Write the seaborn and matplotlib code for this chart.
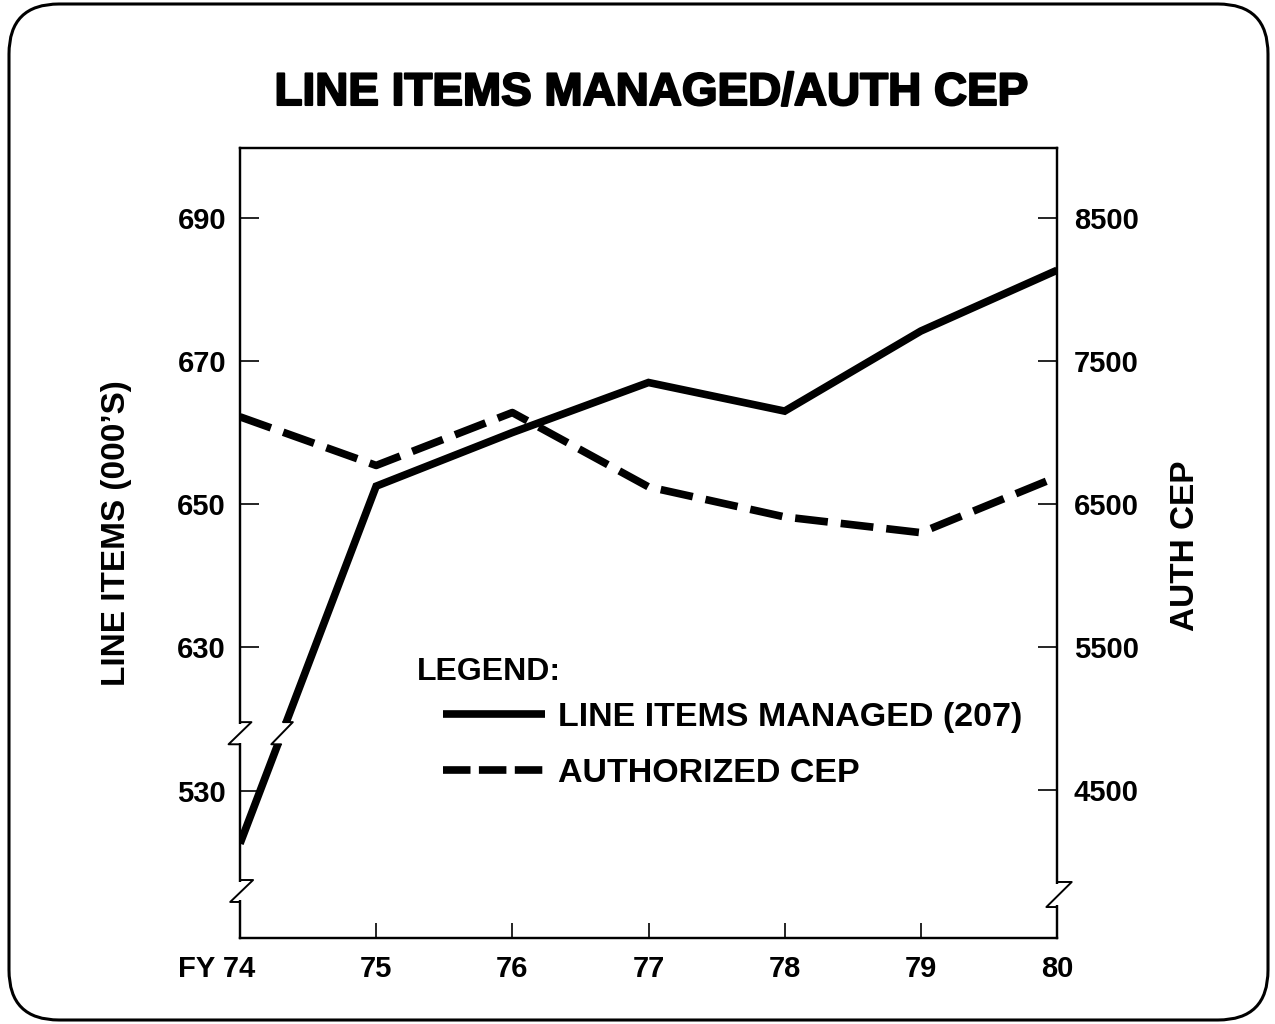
import numpy as np
import matplotlib
matplotlib.use("Agg")
import matplotlib.pyplot as plt
import seaborn as sns
from matplotlib.patches import FancyBboxPatch, Rectangle
from matplotlib.lines import Line2D
from matplotlib.transforms import ScaledTranslation
import matplotlib.patheffects as pe

# ---------------- data ----------------
years = [74, 75, 76, 77, 78, 79, 80]
year_labels = ["FY 74", "75", "76", "77", "78", "79", "80"]
line_items = [522.6, 652.5, 660.0, 667.0, 663.0, 674.2, 682.7]   # 000's
auth_cep = [7110, 6770, 7140, 6620, 6410, 6300, 6690]
left_ticks = [530, 630, 650, 670, 690]
right_ticks = [4500, 5500, 6500, 7500, 8500]
title = "LINE ITEMS MANAGED/AUTH CEP"
left_label = "LINE ITEMS (000\u2019S)"
right_label = "AUTH CEP"
legend_labels = ["LINE ITEMS MANAGED (207)", "AUTHORIZED CEP"]

# ---------------- style ----------------
sns.set_style("white")
plt.rcParams['font.family'] = ['Liberation Sans', 'DejaVu Sans']
plt.rcParams['font.weight'] = 'bold'
plt.rcParams['text.color'] = 'black'
plt.rcParams['axes.labelcolor'] = 'black'
plt.rcParams['xtick.color'] = 'black'
plt.rcParams['ytick.color'] = 'black'

W, H = 1275, 1024
fig = plt.figure(figsize=(W / 100, H / 100), dpi=100)
L, R, T, B = 240, 1057, 148, 938
ax = fig.add_axes([L / W, 1 - B / H, (R - L) / W, (B - T) / H])

# broken left scale: 540..620 squeezed to nothing
knots_real = [0, 540, 620, 2000]
knots_vis = [80, 619.9, 620, 2000]
def fwd(v):
    return np.interp(v, knots_real, knots_vis)
def inv(v):
    return np.interp(v, knots_vis, knots_real)
ax.set_yscale('function', functions=(fwd, inv))

ylim_left = (509.4, 699.8)
ax.set_xlim(years[0], years[-1])
ax.set_ylim(*ylim_left)

LW = 5.5
sns.lineplot(x=years, y=line_items, ax=ax, color='black', linewidth=LW,
             legend=False, solid_joinstyle='miter', solid_capstyle='butt')

ax2 = ax.twinx()
ylo_v, yhi_v = fwd(ylim_left[0]), fwd(ylim_left[1])
ax2.set_ylim(5500 + (ylo_v - 630) * 50, 5500 + (yhi_v - 630) * 50)
sns.lineplot(x=years, y=auth_cep, ax=ax2, color='black', linewidth=LW,
             legend=False, linestyle=(0, (4.3, 1.7)), dash_capstyle='butt')
ax2.set_xlim(years[0], years[-1])

# ticks
ax.set_xticks(years)
ax.set_xticklabels(year_labels)
ax.set_yticks(left_ticks)
ax.set_yticklabels([str(t) for t in left_ticks])
ax.yaxis.set_minor_locator(matplotlib.ticker.NullLocator())
ax2.set_yticks(right_ticks)
ax2.set_yticklabels([str(t) for t in right_ticks])

ax.tick_params(axis='y', direction='in', length=14, width=1.2, labelsize=21,
               pad=10, left=True, colors='black')
ax.tick_params(axis='x', direction='in', length=11, width=1.2, labelsize=21,
               pad=12, bottom=True, colors='black')
ax2.tick_params(axis='y', direction='in', length=14, width=1.2, labelsize=21,
                pad=12, right=True, colors='black')

for a in (ax, ax2):
    for s in a.spines.values():
        s.set_color('black')
        s.set_linewidth(1.6)

# "FY 74" sits with its digits under the first tick
t0 = ax.xaxis.get_major_ticks()[0]
t0.label1.set_horizontalalignment('right')
t0.label1.set_transform(t0.label1.get_transform() +
                        ScaledTranslation(0.15, 0, fig.dpi_scale_trans))

# axis labels
ax.set_ylabel(left_label, fontsize=24, fontweight='bold', color='black')
ax.yaxis.label.set_verticalalignment('center')
ax.yaxis.set_label_coords((117 - L) / (R - L), (B - 533) / (B - T))
ax2.set_ylabel(right_label, fontsize=24, fontweight='bold', rotation=90,
               color='black')
ax2.yaxis.label.set_verticalalignment('center')
ax2.yaxis.set_label_coords(1 + (1185 - R) / (R - L), (B - 546) / (B - T))
ax.set_xlabel("")

# ---------------- axis breaks ----------------
def ay(v):
    return (v - ylo_v) / (yhi_v - ylo_v)

brk_kw = dict(transform=ax2.transAxes, clip_on=False, zorder=20)

def spine_break(x0, top, bot, dx_top, dx_bot):
    ax2.add_patch(Rectangle((x0 - 0.006, bot + 0.002), 0.012, top - bot - 0.004,
                            facecolor='white', edgecolor='none', **brk_kw))
    ax2.add_line(Line2D([x0, x0 + dx_top, x0 + dx_bot, x0], [top, top, bot, bot],
                        color='black', lw=1.4, **brk_kw))

v_hi, v_lo = 619.5, 616.4
band_top, band_bot = ay(v_hi), ay(v_lo)
spine_break(0.0, band_top, band_bot, 0.014, -0.014)
spine_break(0.0, 0.0734, 0.0456, 0.016, -0.012)
spine_break(1.0, 0.0709, 0.0392, 0.018, -0.013)

# break in the solid line
vis_items = fwd(np.array(line_items, dtype=float))
span = years[-1] - years[0]
def line_x(v):
    x = years[0] + (v - vis_items[0]) / (vis_items[1] - vis_items[0]) * (years[1] - years[0])
    return (x - years[0]) / span
xh, xl = line_x(v_hi), line_x(v_lo)
ax2.add_patch(Rectangle((0.02, band_bot), 0.09, band_top - band_bot,
                        facecolor='white', edgecolor='none', **brk_kw))
ax2.add_line(Line2D([xh - 0.004, xh + 0.008, xl - 0.008, xl + 0.004],
                    [band_top, band_top, band_bot, band_bot],
                    color='black', lw=1.4, **brk_kw))

# ---------------- legend ----------------
fig.text(417 / W, 1 - 672 / H, "LEGEND:", ha='left', va='center',
         fontsize=23, fontweight='bold', color='black')
handles = [Line2D([], [], color='black', lw=LW, solid_capstyle='butt'),
           Line2D([], [], color='black', lw=LW, linestyle=(0, (3.6, 1.1)),
                  dash_capstyle='butt')]
leg = ax2.legend(handles, legend_labels, loc='upper left',
                 bbox_to_anchor=(443 / W, 1 - 702 / H),
                 bbox_transform=fig.transFigure, frameon=False,
                 prop={'size': 24.5, 'weight': 'bold'},
                 handlelength=3.0, handletextpad=0.38, labelspacing=0.72,
                 borderpad=0, borderaxespad=0)
for txt in leg.get_texts():
    txt.set_color('black')

# ---------------- title & frame ----------------
fig.text(652 / W, 1 - 93 / H, title, ha='center', va='center',
         fontsize=33, fontweight='bold', color='black',
         path_effects=[pe.withStroke(linewidth=1.5, foreground='black')])

frame = FancyBboxPatch((0.09, 0.04), 12.59, 10.16,
                       boxstyle="round,pad=0,rounding_size=0.5",
                       transform=fig.dpi_scale_trans, facecolor='none',
                       edgecolor='black', linewidth=2.2, zorder=-1)
fig.patches.append(frame)

fig.savefig("out.png", dpi=100, facecolor='white')
